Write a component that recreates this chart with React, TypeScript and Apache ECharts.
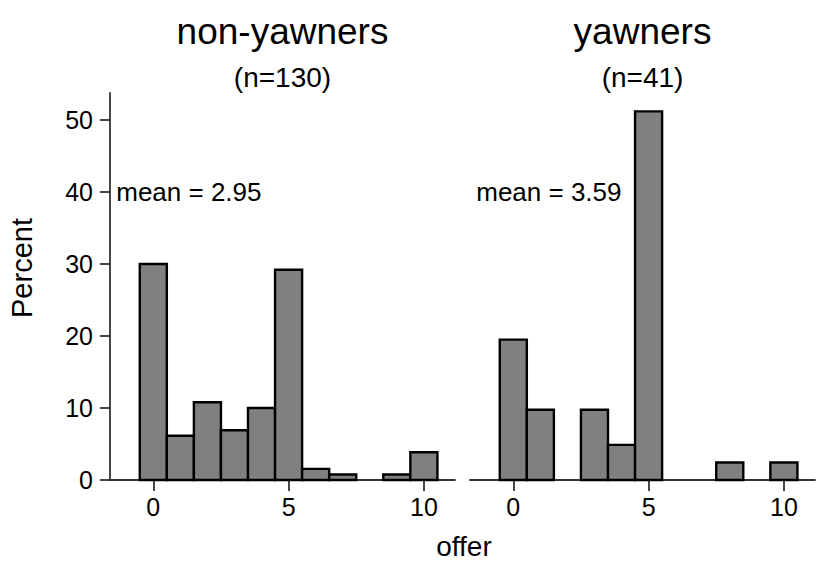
import React, { useEffect, useRef } from "react";
import * as echarts from "echarts";

// offer bins (centre of each unit-wide bar)
const offers = [0, 1, 2, 3, 4, 5, 6, 7, 8, 9, 10];
// percent of respondents in each bin
const nonYawnersPct = [30.0, 6.15, 10.8, 6.9, 10.0, 29.2, 1.54, 0.77, 0, 0.77, 3.85];
const yawnersPct = [19.5, 9.76, 0, 9.76, 4.88, 51.2, 0, 0, 2.44, 0, 2.44];
const panelTitles = ["non-yawners", "yawners"];
const panelSubtitles = ["(n=130)", "(n=41)"];
const meanLabels = ["mean = 2.95", "mean = 3.59"];
const xTicks = [0, 5, 10];
const yTicks = [0, 10, 20, 30, 40, 50];

const FONT = "Liberation Sans, Arial, Helvetica, sans-serif";
const AXIS_COLOR = "#333";

export default function App() {
  const ref = useRef<HTMLDivElement>(null);
  useEffect(() => {
    if (!ref.current) return;
    const chart = echarts.init(ref.current, undefined, { renderer: "svg" });

    const renderBar = (params: any, api: any) => {
      const x = api.value(0);
      const y = api.value(1);
      if (!y) return null;
      const p0 = api.coord([x - 0.5, y]);
      const p1 = api.coord([x + 0.5, 0]);
      return {
        type: "rect",
        shape: { x: p0[0], y: p0[1], width: p1[0] - p0[0], height: p1[1] - p0[1] },
        style: { fill: "#808080", stroke: "#000", lineWidth: 2.4 },
      };
    };

    const xAxis = (gridIndex: number) => ({
      type: "value",
      gridIndex,
      min: -1.6,
      max: 11.15,
      axisLine: { show: true, onZero: false, lineStyle: { color: AXIS_COLOR, width: 1.8 } },
      axisTick: { show: true, customValues: xTicks, length: 11, lineStyle: { color: AXIS_COLOR, width: 1.8 } },
      axisLabel: { customValues: xTicks, fontSize: 25, color: "#000", fontFamily: FONT, margin: 14 },
      splitLine: { show: false },
    });

    const yAxis = (gridIndex: number, show: boolean) => ({
      type: "value",
      gridIndex,
      min: 0,
      max: 53.75,
      show,
      axisLine: { show: true, onZero: false, lineStyle: { color: AXIS_COLOR, width: 1.8 } },
      axisTick: { show: true, customValues: yTicks, length: 10, lineStyle: { color: AXIS_COLOR, width: 1.8 } },
      axisLabel: { customValues: yTicks, fontSize: 25, color: "#000", fontFamily: FONT, margin: 17 },
      splitLine: { show: false },
    });

    const barSeries = (idx: number, vals: number[]) => ({
      type: "custom",
      xAxisIndex: idx,
      yAxisIndex: idx,
      renderItem: renderBar,
      encode: { x: 0, y: 1 },
      data: offers.map((o, i) => [o, vals[i]]),
      clip: false,
    });

    const meanSeries = (idx: number) => ({
      type: "scatter",
      xAxisIndex: idx,
      yAxisIndex: idx,
      symbolSize: 0,
      silent: true,
      data: [[-1.37, 40]],
      label: {
        show: true,
        formatter: meanLabels[idx],
        position: [0, 0],
        align: "left",
        verticalAlign: "middle",
        fontSize: 26,
        color: "#000",
        opacity: 1,
        fontFamily: FONT,
      },
      itemStyle: { opacity: 1 },
    });

    const titleGraphic = (cx: number, idx: number) => [
      {
        type: "text",
        x: cx,
        y: 31,
        style: {
          text: panelTitles[idx],
          fontSize: 37,
          fontFamily: FONT,
          fill: "#000",
          align: "center",
          verticalAlign: "middle",
        },
      },
      {
        type: "text",
        x: cx,
        y: 77,
        style: {
          text: panelSubtitles[idx],
          fontSize: 28,
          fontFamily: FONT,
          fill: "#000",
          align: "center",
          verticalAlign: "middle",
        },
      },
    ];

    chart.setOption({
      animation: false,
      backgroundColor: "#fff",
      grid: [
        { left: 110, right: 361, top: 93, bottom: 83 },
        { left: 470, right: 1, top: 93, bottom: 83 },
      ],
      xAxis: [xAxis(0), xAxis(1)],
      yAxis: [yAxis(0, true), yAxis(1, false)],
      series: [
        barSeries(0, nonYawnersPct),
        barSeries(1, yawnersPct),
        meanSeries(0),
        meanSeries(1),
      ],
      graphic: [
        ...titleGraphic(282.5, 0),
        ...titleGraphic(642.5, 1),
        {
          type: "text",
          x: 22,
          y: 268,
          rotation: Math.PI / 2,
          style: {
            text: "Percent",
            fontSize: 29,
            fontFamily: FONT,
            fill: "#000",
            align: "center",
            verticalAlign: "middle",
          },
        },
        {
          type: "text",
          x: 464,
          y: 546,
          style: {
            text: "offer",
            fontSize: 28,
            fontFamily: FONT,
            fill: "#000",
            align: "center",
            verticalAlign: "middle",
          },
        },
      ],
    });
    return () => chart.dispose();
  }, []);
  return (
    <div
      ref={ref}
      style={{ position: "fixed", left: 0, top: 0, width: 816, height: 563 }}
    />
  );
}
